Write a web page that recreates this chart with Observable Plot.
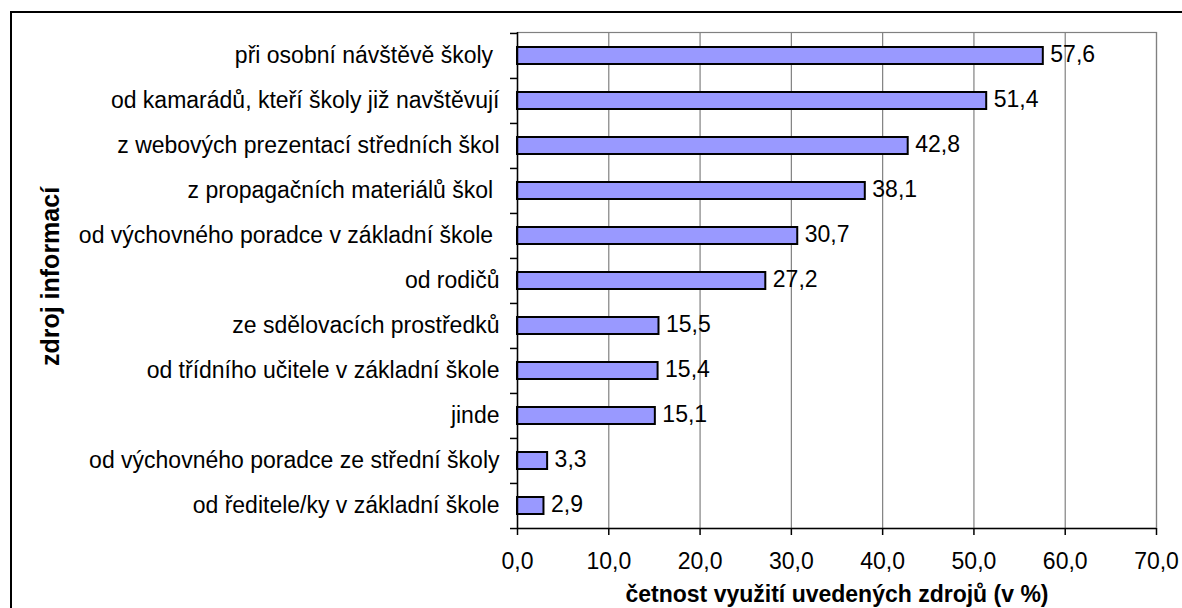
<!DOCTYPE html>
<html><head><meta charset="utf-8">
<script src="https://cdn.jsdelivr.net/npm/d3@7"></script>
<script src="https://cdn.jsdelivr.net/npm/@observablehq/plot@0.6"></script>
<style>
html,body{margin:0;padding:0;background:#fff;overflow:hidden;}
#wrap{position:relative;width:1182px;height:608px;overflow:hidden;background:#fff;}
#frame{position:absolute;left:10px;top:11px;width:1300px;height:800px;border:2px solid #000;pointer-events:none;}
#wrap svg{position:absolute;left:0;top:0;}
svg text{white-space:pre;}
</style></head><body>
<div id="wrap"><div id="frame"></div></div>
<script>
const categories = [
  "při osobní návštěvě školy ",
  "od kamarádů, kteří školy již navštěvují",
  "z webových prezentací středních škol",
  "z propagačních materiálů škol ",
  "od výchovného poradce v základní škole ",
  "od rodičů",
  "ze sdělovacích prostředků",
  "od třídního učitele v základní škole",
  "jinde",
  "od výchovného poradce ze střední školy",
  "od ředitele/ky v základní škole"
];
const values = [57.6, 51.4, 42.8, 38.1, 30.7, 27.2, 15.5, 15.4, 15.1, 3.3, 2.9];
const xTicks = [0, 10, 20, 30, 40, 50, 60, 70];
const xTitle = "četnost využití uvedených zdrojů (v %)";
const yTitle = "zdroj informací";

const data = categories.map((c, i) => ({category: c, value: values[i]}));
const fmt = d => d.toFixed(1).replace(".", ",");

const W = 1182, H = 608, mL = 517, mR = 26, mT = 32, mB = 80;
const bw = (H - mT - mB) / categories.length;
const font = 23;

const chart = Plot.plot({
  width: W, height: H,
  marginLeft: mL, marginRight: mR, marginTop: mT, marginBottom: mB,
  style: {fontFamily: "'Liberation Sans', Arial, sans-serif", fontSize: font + "px", background: "transparent", color: "#000"},
  x: {domain: [xTicks[0], xTicks[xTicks.length - 1]], label: null},
  y: {domain: categories, padding: 0, label: null},
  marks: [
    Plot.frame({stroke: "#808080", strokeWidth: 1.2}),
    Plot.ruleX(xTicks.slice(1), {stroke: "#808080", strokeWidth: 1.2}),
    Plot.barX(data, {x: "value", y: "category", fill: "#9999FF", stroke: "#000", strokeWidth: 2, insetTop: 14, insetBottom: 14}),
    Plot.text(data, {x: "value", y: "category", text: d => fmt(d.value), textAnchor: "start", dx: 7, dy: -1, fontSize: font, fill: "#000"}),
    Plot.ruleX([xTicks[0]], {stroke: "#000", strokeWidth: 1.5}),
    Plot.ruleY([categories[categories.length - 1]], {x1: xTicks[0], x2: xTicks[xTicks.length - 1], dy: bw / 2, stroke: "#000", strokeWidth: 1.5}),
    Plot.axisX(xTicks, {tickSize: 7, tickPadding: 17, tickFormat: fmt, fontSize: font, label: null, strokeWidth: 1.5}),
    Plot.axisY({tickSize: 0, tickPadding: 18, fontSize: font, label: null}),
    Plot.axisY(categories, {tickSize: 7, text: null, dy: -bw / 2, label: null, strokeWidth: 1.5}),
    Plot.axisY([categories[categories.length - 1]], {tickSize: 7, text: null, dy: bw / 2, label: null, strokeWidth: 1.5}),
    Plot.text([xTitle], {frameAnchor: "bottom", textAnchor: "middle", lineAnchor: "middle", dy: 66, fontSize: font, fontWeight: "bold", fill: "#000"}),
    Plot.text([yTitle], {frameAnchor: "left", textAnchor: "middle", lineAnchor: "middle", dx: -467, dy: -4, rotate: -90, fontSize: 25, fontWeight: "bold", fill: "#000"})
  ]
});
document.getElementById("wrap").appendChild(chart);
</script>
</body></html>
